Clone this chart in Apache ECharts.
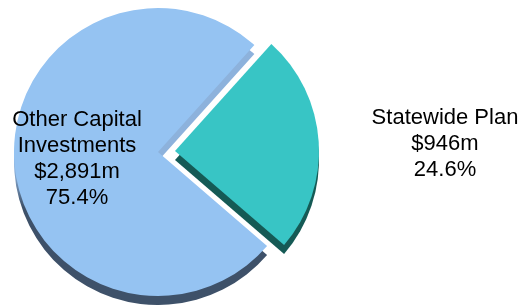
<!DOCTYPE html>
<html>
<head>
<meta charset="utf-8">
<script src="https://cdn.jsdelivr.net/npm/echarts@6/dist/echarts.min.js"></script>
<style>
  html, body { margin: 0; padding: 0; background: #fff; }
  #chart { width: 526px; height: 305px; }
</style>
</head>
<body>
<div id="chart"></div>
<script>
// slice data (Statewide Plan first so it starts at the upper right)
const names = ["Statewide Plan", "Other Capital\nInvestments"];
const values = [946, 2891];
const valueLabels = ["$946m", "$2,891m"];
const pctLabels = ["24.6%", "75.4%"];

const topColors = ["#38C5C5", "#95C3F2"];

const myChart = echarts.init(document.getElementById("chart"), null, { renderer: "canvas" });

// side face of the "3D" pie: light on the upper cut edge, dark round the bottom
const blueSide = new echarts.graphic.LinearGradient(0, 0, 0, 305, [
  { offset: 0, color: "#8DB2DC" },
  { offset: 0.56, color: "#8DB2DC" },
  { offset: 0.68, color: "#3E5169" },
  { offset: 1, color: "#3E5169" },
], true);
const sideColors = ["#155A55", blueSide];

// pie centre, and the exploded slice pulled out ~17px along its middle angle
const baseCenter = [158, 152];
const explode = [17, -1];
const depth = 9;

// one series draws one slice only; the other slice is kept (for the angles) but hidden
function slice(idx, colors, withLabel, center, z) {
  return {
    type: "pie",
    radius: 144,
    startAngle: 48,
    clockwise: true,
    center: center,
    z: z,
    avoidLabelOverlap: false,
    labelLine: { show: false },
    emphasis: { disabled: true },
    silent: true,
    animation: false,
    label: {
      show: withLabel,
      position: "inside",
      color: "#000",
      fontFamily: "Liberation Sans, Arial, sans-serif",
      fontSize: 22,
      lineHeight: 26,
      align: "center",
      formatter: function (p) {
        return p.name + "\n" + valueLabels[p.dataIndex] + "\n" + pctLabels[p.dataIndex];
      },
    },
    labelLayout: function () {
      if (idx === 0) {
        return { x: 445, y: 144, align: "center", verticalAlign: "middle" };
      }
      return { x: 77, y: 159, align: "center", verticalAlign: "middle" };
    },
    data: names.map(function (n, i) {
      return {
        name: n,
        value: values[i],
        itemStyle: { color: i === idx ? colors[i] : "rgba(0,0,0,0)" },
        label: { show: withLabel && i === idx },
      };
    }),
  };
}

const tealCenter = [baseCenter[0] + explode[0], baseCenter[1] + explode[1]];

myChart.setOption({
  backgroundColor: "#fff",
  series: [
    slice(1, sideColors, false, [baseCenter[0], baseCenter[1] + depth], 1),
    slice(0, sideColors, false, [tealCenter[0], tealCenter[1] + depth], 1),
    slice(1, topColors, true, baseCenter, 2),
    slice(0, topColors, true, tealCenter, 2),
  ],
});

window.addEventListener("resize", function () {
  myChart.resize();
});
</script>
</body>
</html>
